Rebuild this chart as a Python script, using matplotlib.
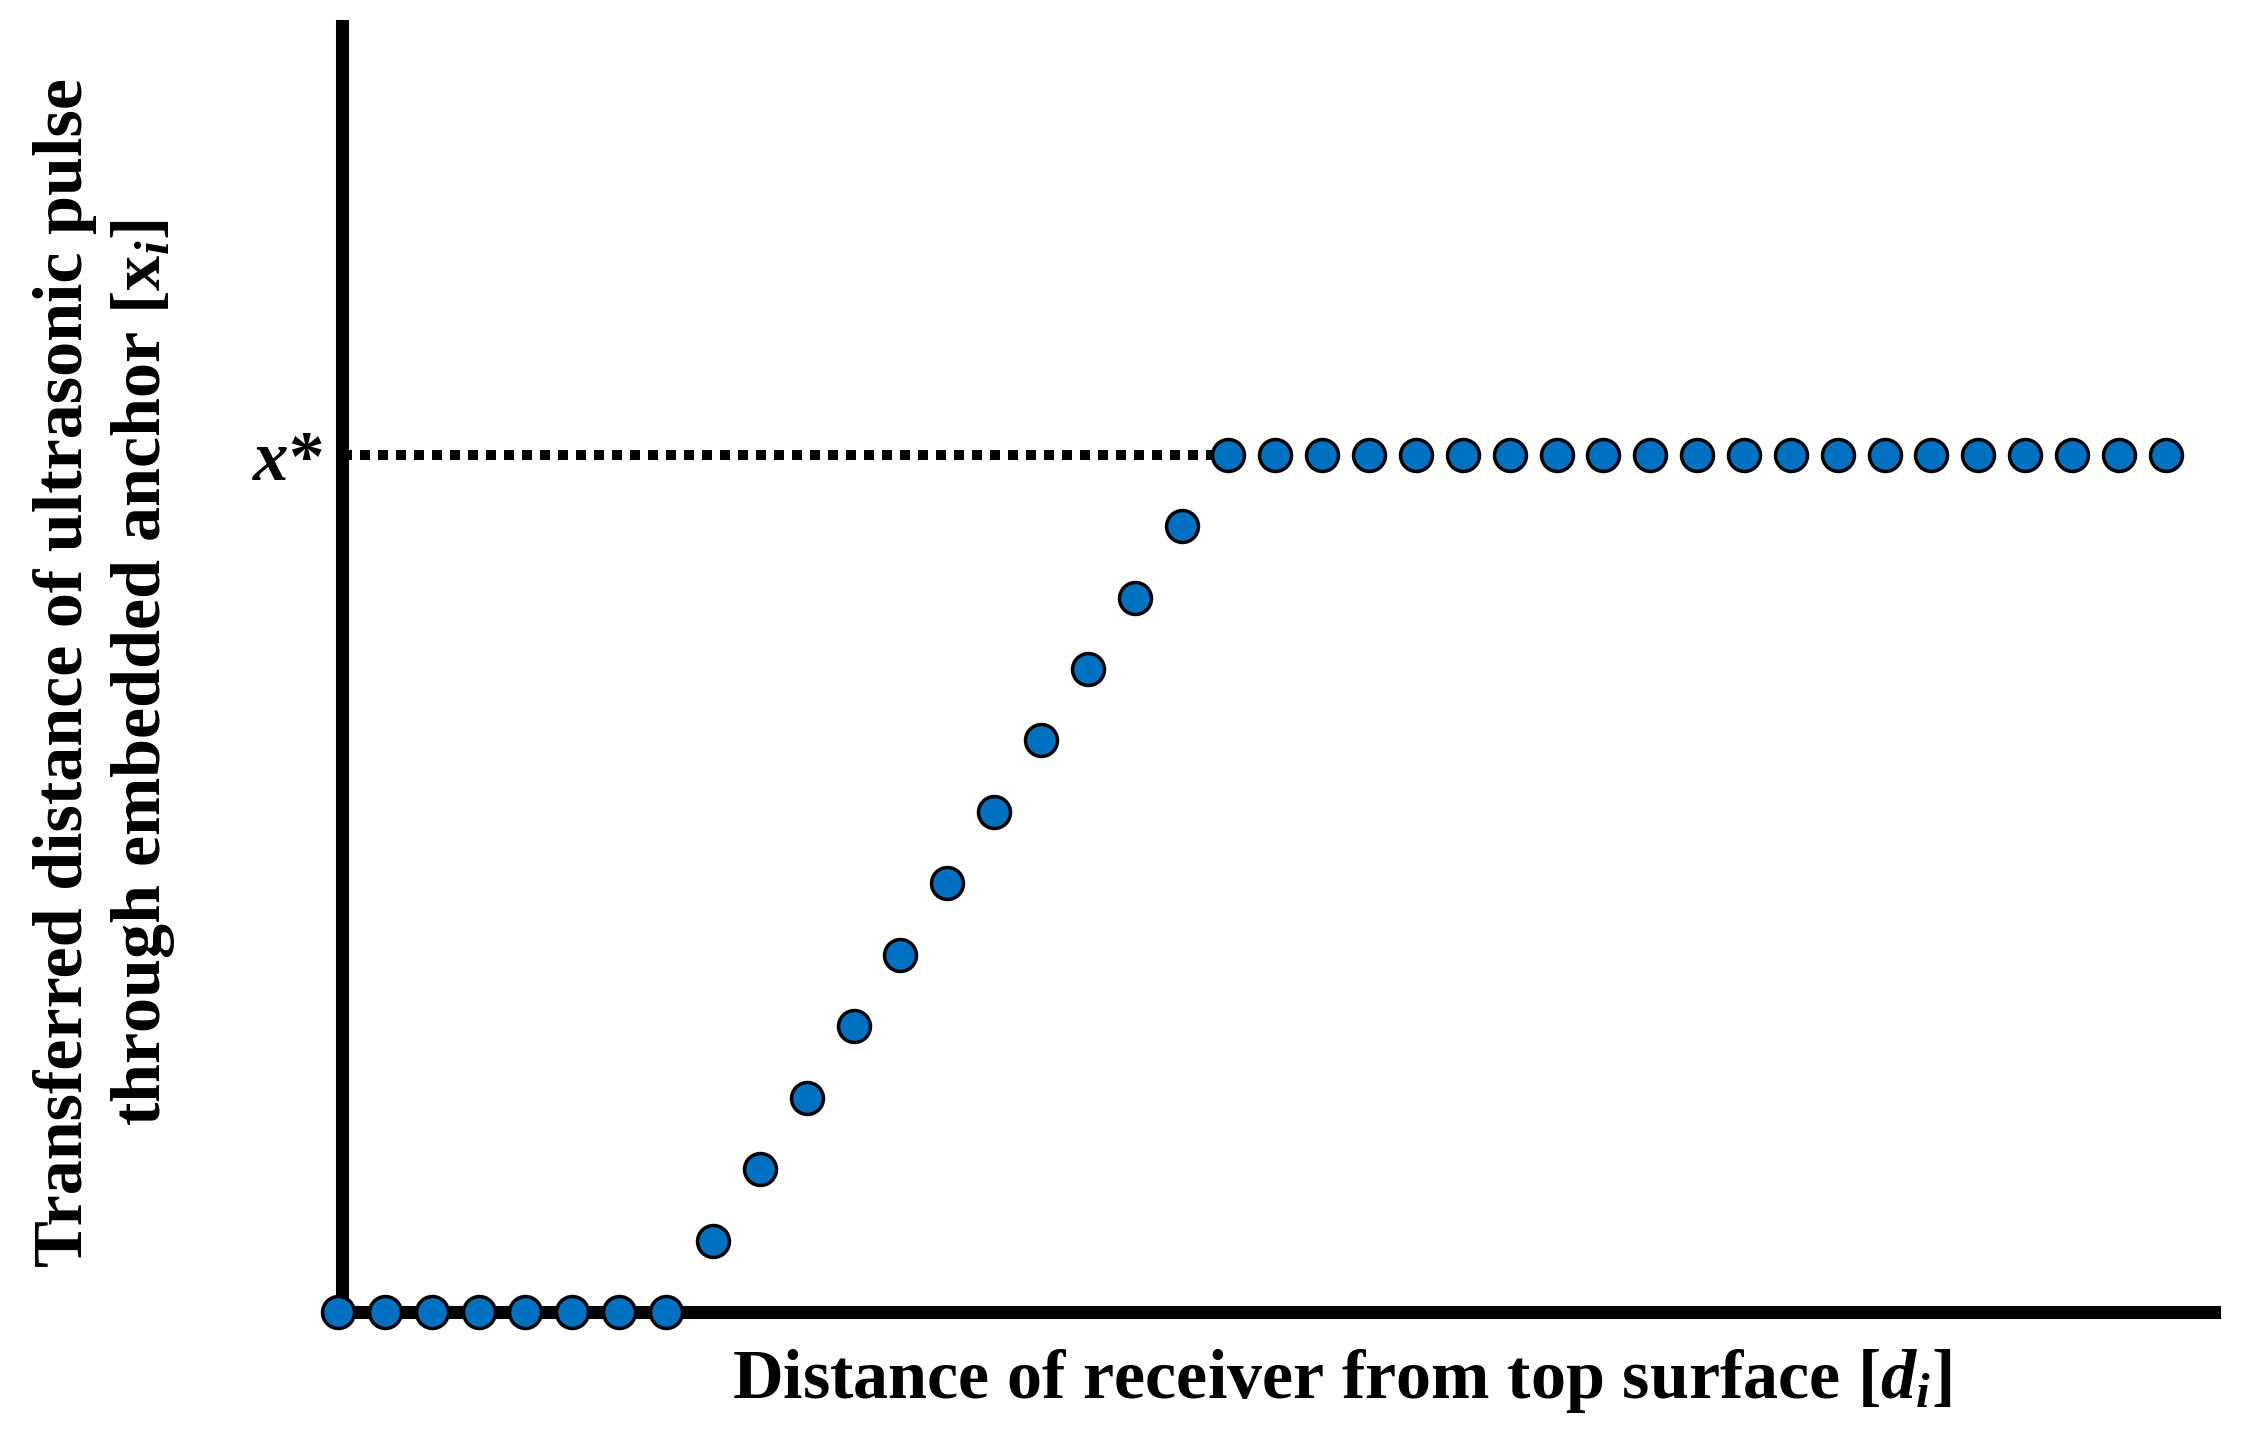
import numpy as np
import matplotlib.pyplot as plt

plt.rcParams['font.family'] = ['Liberation Serif', 'DejaVu Serif']
plt.rcParams['font.weight'] = 'bold'
plt.rcParams['mathtext.fontset'] = 'custom'
plt.rcParams['mathtext.rm'] = 'Liberation Serif:bold'
plt.rcParams['mathtext.bf'] = 'Liberation Serif:bold'
plt.rcParams['mathtext.it'] = 'Liberation Serif:italic:bold'

# receiver positions (index) and transferred distance (in steps)
d = np.arange(40)
x_i = [0, 0, 0, 0, 0, 0, 0, 0,
       1, 2, 3, 4, 5, 6, 7, 8, 9, 10, 11,
       12, 12, 12, 12, 12, 12, 12, 12, 12, 12, 12,
       12, 12, 12, 12, 12, 12, 12, 12, 12, 12]
x_star = 12
plateau_start = 19

fig = plt.figure(figsize=(22.54, 14.5), dpi=100)
ax = fig.add_axes([0.1517, 0.0952, 0.8306, 0.8868])

# dotted guide at x*
ax.plot([0.085, d[plateau_start]], [x_star, x_star], color='black', lw=7.2,
        linestyle=(0, (1.0, 0.8)), dash_capstyle='butt', zorder=1)

ax.plot(d, x_i, 'o', color='#0070C0', markersize=23, markeredgecolor='black',
        markeredgewidth=2.5, clip_on=False, zorder=5)

ax.set_xlim(0.085, 40.03)
ax.set_ylim(0, 18)

for s in ['top', 'right']:
    ax.spines[s].set_visible(False)
for s in ['left', 'bottom']:
    ax.spines[s].set_linewidth(9.4)

ax.set_xticks([])
ax.set_yticks([x_star])
ax.set_yticklabels(['$x$*'], fontsize=51)
ax.tick_params(axis='y', length=0, pad=14)

ax.set_xlabel('Distance of receiver from top surface [$d_i$]', fontsize=50.5,
              fontweight='bold')
ax.xaxis.set_label_coords(0.534, -0.027)
ax.xaxis.label.set_va('top')

ax.set_ylabel('Transferred distance of ultrasonic pulse\nthrough embedded anchor [x$_i$]',
              fontsize=50.5, fontweight='bold', linespacing=1.25)
ax.yaxis.set_label_coords(-0.1266, 0.497)
ax.yaxis.label.set_va('center')

fig.savefig('out.png', dpi=100)
